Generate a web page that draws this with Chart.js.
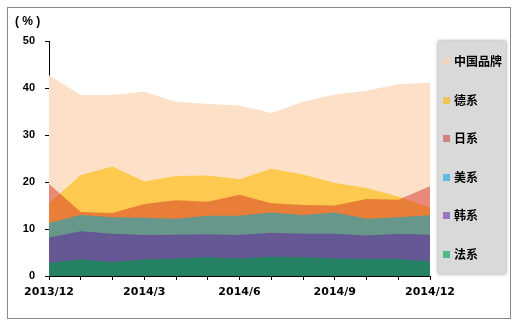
<!DOCTYPE html>
<html>
<head>
<meta charset="utf-8">
<script src="https://cdn.jsdelivr.net/npm/chart.js@4"></script>
<style>
  body { margin: 0; background: #fff; }
  #wrap { position: relative; width: 519px; height: 324px; }
  #myChart { position: absolute; left: 0; top: 0; }
  #frame { position: absolute; left: 7px; top: 7px; width: 502px; height: 310px; border: 1px solid #888; }
  #unit { position: absolute; left: 15px; top: 14px; font: bold 12px "Liberation Sans", Arial, sans-serif; color: #000; white-space: pre; }
  #legend { position: absolute; left: 438px; top: 41px; width: 68px; height: 233px; background: #d9d9d9; box-shadow: 0 0 3px rgba(0, 0, 0, 0.45); }
  .item { position: absolute; left: 5px; height: 14px; font: bold 12px "Noto Sans CJK SC", sans-serif; line-height: 14px; color: #000; white-space: nowrap; }
  .item span { display: inline-block; width: 7px; height: 7px; margin-right: 4px; vertical-align: 1px; }
</style>
</head>
<body>
<div id="wrap">
  <div id="frame"></div>
  <canvas id="myChart" width="519" height="324"></canvas>
  <div id="unit">( % )</div>
  <div id="legend"></div>
</div>
<script>
const months = ["2013/12", "2014/1", "2014/2", "2014/3", "2014/4", "2014/5", "2014/6",
  "2014/7", "2014/8", "2014/9", "2014/10", "2014/11", "2014/12"];
const seriesNames = ["中国品牌", "德系", "日系", "美系", "韩系", "法系"];
const chinaBrand = [42.7, 38.5, 38.5, 39.2, 37.1, 36.6, 36.3, 34.7, 37.1, 38.6, 39.4, 40.8, 41.1];
const german = [15.5, 21.5, 23.3, 20.1, 21.3, 21.4, 20.6, 22.8, 21.6, 19.8, 18.7, 16.9, 14.5];
const japanese = [19.6, 13.6, 13.4, 15.3, 16.1, 15.8, 17.3, 15.5, 15.1, 15.0, 16.4, 16.2, 19.1];
const american = [11.3, 13.0, 12.5, 12.4, 12.2, 12.8, 12.8, 13.5, 13.0, 13.5, 12.2, 12.5, 12.9];
const korean = [8.2, 9.5, 9.0, 8.7, 8.8, 8.9, 8.7, 9.2, 9.0, 9.0, 8.6, 9.0, 8.8];
const french = [2.8, 3.5, 3.0, 3.5, 3.7, 4.0, 3.7, 4.1, 4.0, 3.7, 3.6, 3.6, 3.1];
const yTicks = [0, 10, 20, 30, 40, 50];

const allData = [chinaBrand, german, japanese, american, korean, french];
const fillColors = ["#fde0c8", "#fec94f", "rgba(211,43,33,0.48)", "#67968b", "#665894", "#268264"];
const legendColors = ["#f1d5c1", "#eec552", "#d38283", "#5bbee0", "#9b76ba", "#4fba82"];

// legend
let legendDiv = document.getElementById("legend");
for (let i = 0; i < seriesNames.length; i++) {
  let item = document.createElement("div");
  item.className = "item";
  item.style.top = (13 + i * 38.5) + "px";
  item.innerHTML = '<span style="background:' + legendColors[i] + '"></span>' + seriesNames[i];
  legendDiv.append(item);
}

const datasets = seriesNames.map((name, i) => ({
  label: name,
  data: allData[i],
  backgroundColor: fillColors[i],
  borderColor: "transparent",
  borderWidth: 0,
  pointRadius: 0,
  tension: 0,
  fill: "origin",
  order: seriesNames.length - i,
}));

const ctx = document.getElementById("myChart").getContext("2d");
const myChart = new Chart(ctx, {
  type: "line",
  data: { labels: months, datasets: datasets },
  options: {
    responsive: false,
    animation: false,
    layout: { padding: { left: 0, top: 41, right: 89, bottom: 0 } },
    plugins: { legend: { display: false }, tooltip: { enabled: false } },
    scales: {
      x: {
        offset: false,
        border: { display: true, color: "#000", width: 1 },
        grid: { display: true, drawOnChartArea: false, drawTicks: true, tickLength: 4, color: "#000" },
        ticks: {
          autoSkip: false,
          maxRotation: 0,
          padding: 6,
          color: "#000",
          font: { family: "DejaVu Sans", weight: "bold", size: 11 },
          callback: (v, i) => (i % 3 === 0 ? months[i] : ""),
        },
        afterFit: (s) => { s.height = 48; },
      },
      y: {
        min: 0,
        max: 50,
        afterBuildTicks: (s) => { s.ticks = yTicks.map((v) => ({ value: v })); },
        border: { display: true, color: "#000", width: 1 },
        grid: { display: true, drawOnChartArea: false, drawTicks: true, tickLength: 4, color: "#000" },
        ticks: {
          padding: 10,
          color: "#000",
          font: { family: "Liberation Sans", weight: "bold", size: 11 },
        },
        afterFit: (s) => { s.width = 49; },
      },
    },
  },
});
</script>
</body>
</html>
